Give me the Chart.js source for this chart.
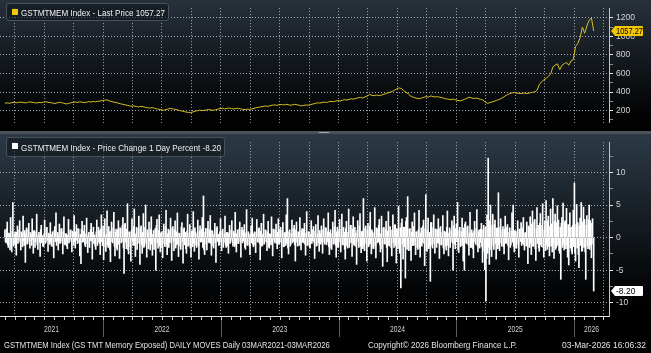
<!DOCTYPE html>
<html>
<head>
<meta charset="utf-8">
<title>GSTMTMEM Index</title>
<script src="https://cdn.jsdelivr.net/npm/chart.js@4.4.1/dist/chart.umd.min.js"></script>
<style>
  html, body { margin: 0; padding: 0; background: #000; }
  #wrap { position: relative; width: 651px; height: 353px; overflow: hidden; background: #000;
          font-family: "Liberation Sans", Arial, sans-serif; color: #ececec; }
  canvas { position: absolute; left: 0; }
  #top-chart { top: 0; }
  #bot-chart { top: 134px; }
  #splitter { position: absolute; left: 0; top: 131px; width: 651px; height: 3px; background: #4c5155; }
  #splitter i { position: absolute; left: 319px; top: 1px; width: 10px; height: 1px; background: #a0a6aa; }
  .legend { position: absolute; left: 6px; box-sizing: border-box; border: 1px solid #47515b;
            border-radius: 3px; background: rgba(12, 17, 22, 0.55); }
  .legend .sw { position: absolute; left: 5px; top: 5px; width: 6px; height: 6px; }
  .txt { position: absolute; white-space: nowrap; font-size: 9.5px; line-height: 11px;
         transform-origin: 0 50%; color: #f2f2f2; }
  .foot { position: absolute; top: 339px; white-space: nowrap; font-size: 9.5px; line-height: 11px;
          transform-origin: 0 50%; color: #e4e4e4; }
</style>
</head>
<body>
<div id="wrap">
  <canvas id="top-chart" width="651" height="131"></canvas>
  <div id="splitter"><i></i></div>
  <canvas id="bot-chart" width="651" height="219"></canvas>

  <div class="legend" style="top:3px; width:163px; height:18px;">
    <span class="sw" style="background:#f0c800;"></span>
    <span class="txt" id="leg-top" style="left:14px; top:3px;">GSTMTMEM Index - Last Price 1057.27</span>
  </div>
  <div class="legend" style="top:137px; width:219px; height:20px;">
    <span class="sw" style="background:#ffffff;"></span>
    <span class="txt" id="leg-bot" style="left:14px; top:3.5px;">GSTMTMEM Index - Price Change 1 Day Percent -8.20</span>
  </div>

  <span class="foot" id="foot-l" style="left:4px;">GSTMTMEM Index (GS TMT Memory Exposed) DAILY MOVES Daily 03MAR2021-03MAR2026</span>
  <span class="foot" id="foot-m" style="left:368px;">Copyright© 2026 Bloomberg Finance L.P.</span>
  <span class="foot" id="foot-r" style="left:562px;">03-Mar-2026 16:06:32</span>
</div>

<script>
// ── Data ────────────────────────────────────────────────────────────────
// weekly closes, 03-Mar-2021 .. 03-Mar-2026
var priceLast = [
  280, 284, 278, 286, 291, 285, 288, 292, 287, 283, 289, 294, 290, 286, 282, 288, 285, 291, 296, 290,
  287, 282, 276, 283, 290, 286, 279, 272, 277, 284, 289, 293, 288, 295, 291, 286, 290, 297, 293, 299,
  295, 301, 303, 308, 312, 316, 306, 298, 292, 288, 281, 274, 268, 262, 258, 252, 247, 251, 244, 240,
  246, 242, 236, 231, 227, 233, 226, 220, 214, 210, 204, 210, 218, 224, 219, 215, 209, 202, 196, 190,
  185, 181, 178, 186, 194, 200, 205, 201, 203, 208, 212, 207, 203, 210, 216, 222, 226, 219, 224, 228,
  223, 218, 222, 226, 219, 214, 210, 216, 213, 218, 225, 231, 236, 241, 245, 250, 246, 252, 258, 262,
  257, 263, 266, 261, 268, 264, 258, 262, 268, 263, 257, 252, 256, 261, 258, 265, 271, 278, 284, 281,
  287, 292, 288, 295, 300, 296, 302, 308, 303, 311, 318, 314, 322, 328, 324, 332, 338, 342, 336, 348,
  358, 372, 366, 360, 368, 362, 365, 374, 381, 390, 398, 406, 420, 432, 445, 438, 418, 400, 382, 360,
  348, 339, 332, 328, 336, 344, 350, 346, 358, 352, 347, 350, 345, 339, 332, 326, 322, 318, 324, 316,
  310, 305, 312, 322, 333, 345, 338, 330, 336, 328, 322, 314, 296, 278, 285, 292, 300, 310, 318, 329,
  342, 360, 372, 384, 391, 395, 388, 386, 384, 389, 385, 387, 392, 397, 402, 420, 480, 510, 531, 547,
  570, 594, 672, 690, 704, 641, 688, 705, 719, 688, 735, 751, 892, 923, 986, 1100, 1033, 1111, 1174, 1198,
  1057.27
];

// 1 day price change, percent
var dayChange = [
  1.2,-0.6, -0.8,1.4, 2.4,-1.1, -1.5,0.7, 0.6,-1.9, 3.1,-0.4, -2.2,1.0, 5.4,-1.3, -1.1,0.5, 0.9,-1.6, -2.7,0.8, 1.8,-0.9, -0.4,1.2, 2.6,-0.7, -1.9,0.9, 0.7,-1.4, 3.3,-0.5, -1.2,1.1, -3.8,0.6, 1.5,-1.0,
  -0.9,1.3, 2.2,-0.5, -1.6,0.8, 0.5,-1.2, 2.9,-0.3, -2.4,1.0, 1.1,-1.5, -0.6,0.9, 3.6,-1.1, -1.8,0.4, 0.8,-0.7, -2.9,1.2, 1.9,-0.8, 0.3,-1.3, -1.4,0.6, 2.7,-0.9, -0.7,1.5, 1.6,-0.4, -2.1,0.7, 0.4,-1.0,
  2.3,-0.7, -1.3,0.5, 0.9,-1.4, -3.1,1.1, 1.7,-0.6, 3.8,-1.2, -0.5,0.8, -1.9,0.3, 2.1,-0.9, -0.8,1.3, 1.4,-0.5, -2.5,0.9, 3.2,-1.0, -1.1,0.6, 0.6,-1.3, -1.7,0.4, 2.8,-0.8, -0.3,1.1, 1.2,-0.6, -2.2,1.0,
  0.7,-1.2, 3.4,-0.6, -1.6,0.9, 2.0,-0.4, -0.9,1.4, 1.3,-0.8, -2.8,0.5, -4.0,1.3, 2.5,-0.7, -0.6,1.0, 1.9,-1.1, -1.4,0.6, 3.0,-0.9, -2.3,0.4, 0.8,-1.5, -0.5,1.2, 2.2,-0.5, -3.3,0.8, 1.6,-0.9, 0.4,-1.3,
  -1.8,0.9, 2.7,-1.2, -0.7,1.6, 1.1,-0.9, -2.6,1.3, 3.5,-0.6, -1.2,1.8, -3.4,0.7, 2.9,-1.4, -2.1,0.5, 4.1,-1.1, -1.5,1.7, 0.9,-1.8, -3.7,1.0, 2.4,-0.6, -0.8,1.5, 3.9,-1.3, -2.8,0.8, 1.3,-1.6, -1.9,1.2,
  2.6,-1.0, -3.2,1.5, 1.4,-0.8, -0.6,1.9, 3.1,-1.6, -5.5,2.0, 2.2,-0.7, -1.7,1.3, 5.2,-1.9, -2.5,0.9, 0.8,-1.4, -3.6,1.1, 2.9,-0.5, -1.2,1.7, 4.4,-1.2, -2.9,0.6, 1.6,-1.8, -0.9,1.4, 3.3,-0.8, -4.1,1.5,
  1.8,-1.1, -2.4,0.8, 3.7,-1.5, -1.3,1.6, 5.0,-0.9, -3.0,1.2, 0.7,-1.7, 2.4,-0.6, -1.9,1.3, 3.2,-1.0, -2.7,0.5, 1.1,-1.8, -0.5,1.4, -5.0,1.9, 2.8,-0.8, -1.6,1.1, 3.5,-1.3, -2.2,0.7, 0.9,-1.5, -3.1,1.0,
  2.1,-0.9, -1.4,1.7, 4.2,-1.2, -2.6,0.6, 1.3,-1.5, -0.7,1.1, 3.0,-0.8, -3.5,1.4, 1.7,-0.5, -2.0,1.2, 2.6,-1.6, -1.1,0.9, 3.8,-1.0, -2.9,0.7, 0.6,-1.3, -1.8,1.6, 2.3,-0.6, -3.9,1.3, 1.5,-1.1, 0.8,-1.7,
  -2.4,1.0, 3.6,-1.3, -1.2,0.7, 2.0,-1.6, -3.0,0.9, 1.1,-1.4, 4.0,-0.8, -2.1,1.5, 0.9,-1.1, -1.5,0.6, 2.7,-1.2, -3.3,1.0, 1.8,-0.7, -0.6,1.3, 3.1,-1.5, 6.4,-1.9, -2.6,0.8, 1.4,-1.0, -1.9,1.4, 2.5,-0.6,
  -0.8,1.2, 3.4,-0.9, -2.7,1.1, 1.0,-1.3, -1.6,0.5, 2.2,-0.8, -3.8,1.4, 1.7,-0.6, 0.5,-1.2, -1.1,0.9, 2.9,-0.7, -2.0,1.0, 1.3,-1.5, -0.7,0.6, 3.3,-1.1, -1.5,0.8, 0.8,-1.3, -2.4,0.7, 1.9,-0.9, -0.4,1.2,
  2.6,-0.7, -1.3,1.0, 0.7,-1.4, 3.9,-1.1, -2.2,0.6, 1.2,-0.9, -0.9,1.3, 2.4,-0.5, -3.0,1.2, 1.6,-0.8, -0.5,1.1, 2.0,-1.5, -1.8,0.7, 4.3,-1.2, -1.0,0.9, 0.6,-1.3, -2.6,0.5, 1.8,-0.8, 3.0,-1.0, -1.4,0.6,
  0.9,-1.1, -2.3,0.8, 2.8,-0.6, -0.7,1.4, 1.5,-0.9, -3.4,1.0, 2.2,-1.3, -1.2,0.5, 3.6,-1.0, -0.6,1.2, 1.1,-0.7, -2.0,0.9, 2.5,-1.4, -1.6,0.6, 0.4,-1.1, 3.2,-0.8, -2.8,1.3, 1.3,-0.5, -0.8,1.1, 2.1,-0.9,
  -1.7,0.8, 2.9,-1.0, -0.9,1.3, 1.6,-0.6, -3.1,1.1, 2.3,-1.4, -1.4,0.7, 0.8,-1.2, 3.5,-0.9, 6.0,-1.6, -2.5,0.9, 1.2,-1.3, -1.0,0.6, 2.7,-0.8, -0.6,1.4, 1.9,-1.1, -3.6,1.2, 2.4,-0.7, -1.3,0.9, 0.7,-1.2,
  3.1,-0.8, -1.9,1.1, 1.4,-0.6, -0.8,1.3, 2.2,-1.0, -2.7,0.7, 4.0,-1.2, -1.1,0.9, 0.9,-1.4, -1.6,0.5, 2.6,-0.9, -0.5,1.2, 1.7,-0.7, -3.2,1.0, 2.0,-1.3, -1.2,0.6, 3.4,-0.8, -2.1,1.1, 0.6,-1.0, 1.8,-0.6,
  -2.4,1.2, 2.9,-0.7, -1.0,1.5, 1.5,-1.1, -0.7,0.9, 3.8,-1.4, -2.6,0.8, 1.2,-1.6, -1.8,0.6, 2.4,-1.0, -0.9,1.7, 4.2,-1.2, -3.0,0.9, 1.6,-1.5, -1.4,1.1, 2.8,-0.6, -2.2,1.3, 3.6,-1.1, -1.1,1.6, 0.8,-1.8,
  -3.3,1.4, 2.5,-1.2, -1.6,0.8, 4.4,-1.5, -0.8,1.9, 1.9,-0.7, -2.9,1.3, 3.2,-1.0, -1.2,1.6, 0.7,-1.4, -4.1,1.1, 2.6,-0.6, -1.5,1.8, 3.7,-1.3, -2.3,0.9, 1.0,-1.7, 6.0,-1.2, -2.0,1.5, 1.8,-0.9, -3.6,1.2,
  2.2,-1.4, -1.1,1.8, 3.9,-0.9, -2.5,1.2, 0.9,-1.6, -1.7,0.7, 4.6,-1.3, -3.1,1.5, 1.4,-0.8, -0.6,1.9, 2.8,-1.1, -2.2,0.6, 3.3,-1.7, -4.4,1.4, 1.6,-0.9, -1.0,1.3, 2.5,-1.5, -3.7,1.0, 4.0,-1.2, -1.3,1.7,
  1.2,-1.6, -2.8,1.1, 3.5,-0.8, -1.5,1.9, 2.0,-1.2, -3.9,1.4, 1.1,-1.7, 4.8,-0.9, -2.4,1.5, -7.7,2.2, 2.9,-1.0, -3.3,1.6, 1.6,-1.4, -6.2,2.5, 3.1,-1.8, 6.3,-1.1, -2.0,1.3, 1.4,-1.9, -3.5,0.8, 2.4,-1.2,
  -1.2,1.7, 3.8,-1.1, -2.6,0.9, 0.9,-1.5, -1.8,1.2, 4.2,-1.6, -3.0,0.7, 1.5,-1.3, -0.7,1.8, 2.7,-0.9, -4.3,1.4, 6.6,-2.0, -2.1,1.1, 3.0,-1.7, -1.4,0.8, -6.7,2.3, 2.3,-1.2, -1.6,1.5, 3.5,-0.9, -2.4,1.3,
  1.3,-1.5, -0.8,1.2, 2.9,-0.9, -3.2,1.4, 1.7,-1.1, -1.1,0.8, 3.4,-1.6, -2.5,1.0, 0.8,-1.3, -1.9,1.6, 4.1,-1.2, -2.8,0.7, 1.5,-1.5, -0.6,1.1, 2.6,-0.8, -5.0,1.8, 3.3,-1.0, -1.7,1.4, 2.1,-0.6, 5.4,-1.9,
  -2.3,1.1, 1.6,-1.4, -1.2,0.9, 3.0,-1.2, -3.6,1.5, -5.0,2.1, 2.4,-0.8, -0.9,1.6, 1.8,-1.1, -2.7,0.7, 3.9,-1.5, -1.5,1.2, 0.7,-1.7, -3.1,1.0, 2.5,-0.6, -1.0,1.4, 4.3,-1.3, -2.2,0.9, 1.2,-1.6, -0.7,1.3,
  2.2,-1.4, -3.8,1.2, 1.9,-2.1, -4.9,1.6, -9.7,-3.2, 3.5,-2.4, 12.2,-1.5, -4.1,2.6, 5.0,-1.8, -2.9,1.9, 3.6,-1.2, -1.8,2.0, 2.7,-0.9, -3.3,1.5, 1.4,-1.7, 6.9,-1.1, -2.0,1.6, 2.9,-0.8, -1.3,1.2, 1.7,-1.4,
  -2.5,1.3, 3.3,-0.9, -0.8,1.6, 2.0,-1.2, -3.4,0.8, 1.5,-1.5, -1.1,1.0, 3.8,-0.7, 5.0,-1.4, -2.2,1.1, 1.0,-1.6, -1.6,0.9, 2.6,-1.0, -3.0,1.3, 1.3,-0.6, 2.3,-1.2, -0.9,1.5, 3.1,-1.1, -1.9,0.7, 0.8,-1.3,
  2.4,-1.2, -4.0,1.8, 1.6,-1.5, 3.2,-0.8, -2.6,2.1, 4.1,-1.3, -1.3,2.4, 2.8,-1.7, -3.5,1.4, 4.6,-0.9, 1.9,-1.6, -2.1,2.2, 3.7,-1.1, -1.4,1.9, 5.2,-1.5, -3.0,1.2, 2.5,-2.0, 5.7,-1.0, -1.8,2.6, 3.3,-1.4,
  -2.8,1.7, 4.4,-1.3, 2.1,-2.2, 6.0,-1.0, -3.2,2.5, 3.6,-1.8, -1.5,2.3, 4.9,-1.2, 2.7,-2.0, -2.4,1.6, -6.4,2.2, 3.1,-1.5, 5.3,-0.9, -1.9,2.4, 2.6,-1.7, 4.5,-1.1, -3.0,2.0, -4.2,1.4, 3.8,-1.6, 1.6,-2.1,
  -2.5,1.9, 4.2,-1.4, 8.4,-2.3, -3.6,2.0, 5.1,-1.6, 2.3,-2.6, -4.6,1.8, 3.0,-1.2, 5.4,-2.1, -2.0,2.4, 4.7,-1.5, 2.8,-2.2, -6.4,1.9, 3.4,-1.3, -1.7,2.7, 5.0,-1.8, 2.6,-1.1, -3.1,2.2, 2.9,-1.0, -8.20
];

var yearLabels = ["2021", "2022", "2023", "2024", "2025", "2026"];
var priceTicks = [200, 400, 600, 800, 1000, 1200];
var changeTicks = [-10, -5, 0, 5, 10];

(function () {
  "use strict";

  // ── Axis geometry (fractional years) ────────────────────────────────
  var X_MIN = 2021.125, X_MAX = 2026.297;
  var T0 = 2021.167, T1 = 2026.167;             // 03MAR2021 .. 03MAR2026
  var GRID = "rgba(196,204,212,0.8)";
  var DOT = [1, 2];

  function hasFont(name) {
    var c = document.createElement("canvas").getContext("2d");
    c.font = "20px monospace";
    var a = c.measureText("GSTMTMEM 1057.27").width;
    c.font = '20px "' + name + '", monospace';
    return c.measureText("GSTMTMEM 1057.27").width !== a;
  }
  var narrow = hasFont("Liberation Sans Narrow");
  var TICK_FONT = { family: narrow ? '"Liberation Sans Narrow"' : '"Liberation Sans"', size: narrow ? 9.5 : 8.5 };
  var CANVAS_FONT = TICK_FONT.size + "px " + TICK_FONT.family;

  function quarters(scale) {
    var t = [];
    for (var v = 2021.25; v < X_MAX; v += 0.25) t.push({ value: v });
    scale.ticks = t;
  }
  function stepTicks(lo, hi, step) {
    return function (scale) {
      var t = [];
      for (var v = lo; v <= hi + 1e-9; v += step) t.push({ value: Math.round(v * 10) / 10 });
      scale.ticks = t;
    };
  }

  // ── Plugins ──────────────────────────────────────────────────────────
  var panelBg = {
    id: "panelBg",
    beforeDraw: function (chart, args, opts) {
      var ctx = chart.ctx, h = opts.toArea ? chart.chartArea.bottom : chart.height;
      var g = ctx.createLinearGradient(0, 0, 0, h);
      g.addColorStop(0, opts.top);
      g.addColorStop(0.85, "#030405");
      g.addColorStop(1, "#000000");
      ctx.save();
      ctx.fillStyle = "#000";
      ctx.fillRect(0, 0, chart.width, chart.height);
      ctx.fillStyle = g;
      ctx.fillRect(0, 0, chart.width, h);
      ctx.restore();
    }
  };

  var lastTag = {
    id: "lastTag",
    afterDraw: function (chart, args, opts) {
      var ctx = chart.ctx, y = chart.scales.y.getPixelForValue(opts.value);
      var x0 = chart.chartArea.right + 2, x1 = x0 + 32, h = 5;
      ctx.save();
      ctx.fillStyle = opts.fill;
      ctx.beginPath();
      ctx.moveTo(x0, y);
      ctx.lineTo(x0 + 4, y - h);
      ctx.lineTo(x1 - 1, y - h);
      ctx.quadraticCurveTo(x1, y - h, x1, y - h + 1);
      ctx.lineTo(x1, y + h - 1);
      ctx.quadraticCurveTo(x1, y + h, x1 - 1, y + h);
      ctx.lineTo(x0 + 4, y + h);
      ctx.closePath();
      ctx.fill();
      ctx.fillStyle = "#000";
      ctx.font = CANVAS_FONT;
      ctx.textBaseline = "middle";
      ctx.fillText(opts.text, x0 + 5, y + 0.5, 27);
      ctx.restore();
    }
  };

  var yearAxis = {
    id: "yearAxis",
    afterDraw: function (chart) {
      var ctx = chart.ctx, xs = chart.scales.x, base = chart.chartArea.bottom;
      var px, y, m, t;
      ctx.save();
      ctx.lineWidth = 1;
      ctx.strokeStyle = "#cfcfcf";
      for (y = 2021; y <= 2026; y++) {
        for (m = 0; m < 12; m++) {
          t = y + m / 12;
          if (t <= X_MIN || t >= X_MAX) continue;
          px = Math.round(xs.getPixelForValue(t)) + 0.5;
          ctx.beginPath();
          ctx.moveTo(px, base + 1);
          ctx.lineTo(px, base + 4);
          ctx.stroke();
        }
      }
      ctx.strokeStyle = "#5e5e5e";
      yearLabels.forEach(function (lab) {
        var yr = +lab;
        if (yr <= X_MIN) return;
        var p = Math.round(xs.getPixelForValue(yr)) + 0.5;
        ctx.beginPath();
        ctx.moveTo(p, base + 4);
        ctx.lineTo(p, base + 21);
        ctx.stroke();
      });
      ctx.fillStyle = "#d0d0d0";
      ctx.font = CANVAS_FONT;
      ctx.textAlign = "center";
      ctx.textBaseline = "middle";
      yearLabels.forEach(function (lab) {
        var yr = +lab, a = Math.max(yr, X_MIN), b = Math.min(yr + 1, X_MAX);
        ctx.fillText(lab, xs.getPixelForValue((a + b) / 2), base + 14, 15);
      });
      ctx.restore();
    }
  };

  function yAxis(min, max, buildTicks, isMajor) {
    return {
      position: "right",
      min: min,
      max: max,
      afterBuildTicks: buildTicks,
      afterFit: function (s) { s.width = 42; },
      border: { display: true, color: "#c4c4c4", width: 1, dash: DOT },
      grid: {
        color: function (c) { return c.tick && isMajor(c.tick.value) ? GRID : "rgba(0,0,0,0)"; },
        tickColor: function (c) { return c.tick && isMajor(c.tick.value) ? "#e8e8e8" : "#8c8c8c"; },
        tickLength: 4,
        tickBorderDash: []
      },
      ticks: {
        color: "#d4d4d4",
        font: TICK_FONT,
        padding: 3,
        autoSkip: false,
        callback: function (v) { return isMajor(v) ? String(v) : ""; }
      }
    };
  }

  function xAxis(height, showBorder) {
    return {
      type: "linear",
      min: X_MIN,
      max: X_MAX,
      offset: false,
      afterBuildTicks: quarters,
      afterFit: function (s) { s.height = height; },
      border: { display: showBorder, color: "#e6e6e6", width: 1, dash: DOT },
      grid: { display: true, drawOnChartArea: true, color: GRID, lineWidth: 1, drawTicks: false, offset: false },
      ticks: { display: false, autoSkip: false }
    };
  }

  // ── Top panel: last price ───────────────────────────────────────────
  function initPrice() {
    var n = priceLast.length;
    var pts = priceLast.map(function (v, i) { return { x: T0 + i * (T1 - T0) / (n - 1), y: v }; });
    new Chart(document.getElementById("top-chart"), {
      type: "line",
      data: { datasets: [{ data: pts, borderColor: "#d6c124", borderWidth: 1, pointRadius: 0, tension: 0 }] },
      options: {
        responsive: false, animation: false, devicePixelRatio: 1,
        layout: { padding: 0, autoPadding: false },
        plugins: {
          legend: { display: false }, tooltip: { enabled: false },
          panelBg: { top: "#27313b", toArea: false },
          lastTag: { value: priceLast[n - 1], text: priceLast[n - 1].toFixed(2), fill: "#f2c600" }
        },
        scales: {
          x: xAxis(0, false),
          y: yAxis(67.9, 1303.7, stepTicks(100, 1200, 100), function (v) { return priceTicks.indexOf(v) >= 0; })
        }
      },
      plugins: [panelBg, lastTag]
    });
  }

  // ── Bottom panel: 1 day % change ────────────────────────────────────
  function initChange() {
    var n = dayChange.length;
    var pts = dayChange.map(function (v, i) { return { x: T0 + i * (T1 - T0) / (n - 1), y: v }; });
    new Chart(document.getElementById("bot-chart"), {
      type: "bar",
      data: { datasets: [{ data: pts, backgroundColor: "#ffffff", borderWidth: 0, barThickness: 1 }] },
      options: {
        responsive: false, animation: false, devicePixelRatio: 1,
        layout: { padding: 0, autoPadding: false },
        plugins: {
          legend: { display: false }, tooltip: { enabled: false },
          panelBg: { top: "#2c3a46", toArea: true },
          lastTag: { value: dayChange[n - 1], text: dayChange[n - 1].toFixed(2), fill: "#ffffff" }
        },
        scales: {
          x: xAxis(37, true),
          y: yAxis(-12.03, 14.67, stepTicks(-10, 12.5, 2.5), function (v) { return changeTicks.indexOf(v) >= 0; })
        }
      },
      plugins: [panelBg, yearAxis, lastTag]
    });
  }

  // ── Squeeze label text to the Bloomberg widths ──────────────────────
  function fitText(id, width) {
    var el = document.getElementById(id);
    var w = el.getBoundingClientRect().width;
    if (w > 0) el.style.transform = "scaleX(" + (width / w).toFixed(3) + ")";
  }

  initPrice();
  initChange();
  fitText("leg-top", 144);
  fitText("leg-bot", 200);
  fitText("foot-l", 326);
  fitText("foot-m", 149);
  fitText("foot-r", 84);
})();
</script>
</body>
</html>
